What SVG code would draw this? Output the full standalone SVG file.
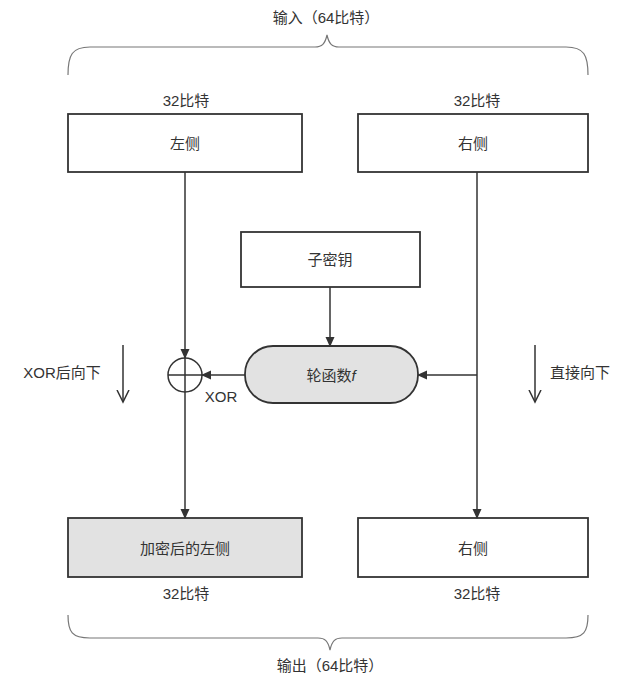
<svg xmlns="http://www.w3.org/2000/svg" width="643" height="688" viewBox="0 0 643 688">
<style>
text{font-family:"Liberation Sans","Noto Sans CJK SC",sans-serif;font-size:15px;fill:#333;text-anchor:middle;dominant-baseline:central}
.box{fill:#fff;stroke:#333;stroke-width:1.8}
.gray{fill:#e2e2e2}
.ln{fill:none;stroke:#333;stroke-width:1.5}
.br{fill:none;stroke:#777;stroke-width:1.2}
</style>
<defs>
<marker id="ah" markerWidth="10" markerHeight="10" refX="9" refY="5" orient="auto" markerUnits="userSpaceOnUse">
<path d="M0,0.5 L10,5 L0,9.5 Z" fill="#333"/>
</marker>
<marker id="oa" markerWidth="14" markerHeight="14" refX="12" refY="7" orient="auto" markerUnits="userSpaceOnUse">
<path d="M0,1 L12,7 L0,13" fill="none" stroke="#333" stroke-width="1.5"/>
</marker>
</defs>
<g id="input-brace">
<path class="br" d="M68,75 C68,55 72,47 90,47 L315,47 C322,47 325,44 327,35 C329,44 332,47 339,47 L566,47 C584,47 588,55 588,75"/>
<text x="326" y="17">输入（64比特）</text>
</g>
<g id="left-in">
<text x="186" y="100">32比特</text>
<rect class="box" x="68" y="114" width="234" height="58"/>
<text x="185" y="143">左侧</text>
</g>
<g id="right-in">
<text x="477" y="100">32比特</text>
<rect class="box" x="358" y="114" width="230" height="58"/>
<text x="473" y="143">右侧</text>
</g>
<g id="subkey">
<rect class="box" x="241" y="232" width="179" height="55"/>
<text x="330" y="259">子密钥</text>
</g>
<g id="round-f">
<rect class="box gray" x="245" y="346" width="173" height="57" rx="28" ry="28"/>
<text x="331" y="375">轮函数<tspan font-style="italic">f</tspan></text>
</g>
<g id="xor">
<circle class="ln" cx="185" cy="375" r="17" fill="#fff"/>
<path class="ln" d="M168,375 H202 M185,358 V392"/>
<text x="221" y="396">XOR</text>
</g>
<g id="left-out">
<rect class="box gray" x="68" y="518" width="234" height="59"/>
<text x="185" y="548">加密后的左侧</text>
<text x="186" y="593">32比特</text>
</g>
<g id="right-out">
<rect class="box" x="358" y="518" width="230" height="59"/>
<text x="473" y="548">右侧</text>
<text x="477" y="593">32比特</text>
</g>
<g id="output-brace">
<path class="br" d="M68,615 C68,632 72,638 90,638 L318,638 C325,638 328,641 330,650 C332,641 335,638 342,638 L566,638 C584,638 588,632 588,615"/>
<text x="330" y="665">输出（64比特）</text>
</g>
<g id="notes">
<path class="ln" d="M123,345 V402" marker-end="url(#oa)"/>
<text x="62" y="372">XOR后向下</text>
<path class="ln" d="M535,345 V402" marker-end="url(#oa)"/>
<text x="580" y="372">直接向下</text>
</g>
<g id="connectors">
<path class="ln" d="M185,172 V358" marker-end="url(#ah)"/>
<path class="ln" d="M185,392 V518" marker-end="url(#ah)"/>
<path class="ln" d="M477,172 V518" marker-end="url(#ah)"/>
<path class="ln" d="M477,375 H418" marker-end="url(#ah)"/>
<path class="ln" d="M245,375 H202" marker-end="url(#ah)"/>
<path class="ln" d="M330,287 V346" marker-end="url(#ah)"/>
</g>
</svg>
